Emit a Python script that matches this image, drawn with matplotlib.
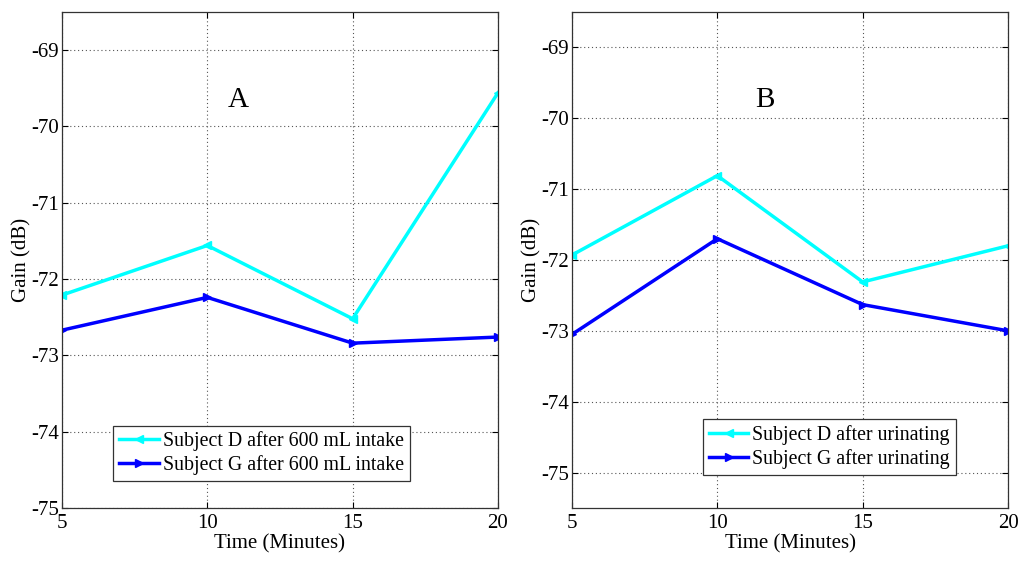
import matplotlib
matplotlib.use("Agg")
import matplotlib.pyplot as plt

plt.rcParams['font.family'] = ['Liberation Serif', 'DejaVu Serif']
plt.rcParams['axes.unicode_minus'] = False

# -----------------------------
# data
# -----------------------------
minutes = [5, 10, 15, 20]

# panel A: after 600 mL intake
d_intake = [-72.21, -71.56, -72.52, -69.56]
g_intake = [-72.67, -72.24, -72.84, -72.76]

# panel B: after urinating
d_urinate = [-71.93, -70.81, -72.31, -71.80]
g_urinate = [-73.05, -71.70, -72.63, -73.00]

yticks_a = [-75, -74, -73, -72, -71, -70, -69]
yticks_b = [-75, -74, -73, -72, -71, -70, -69]

cyan = "#00ffff"
blue = "#0000ff"

fig = plt.figure(figsize=(10.24, 5.62), dpi=100)
ax_a = fig.add_axes([0.0605, 0.0961, 0.4258, 0.8826])
ax_b = fig.add_axes([0.5586, 0.0961, 0.4258, 0.8826])


def style_axis(ax, ylim, yticks):
    ax.set_xlim(5, 20)
    ax.set_ylim(*ylim)
    ax.set_xticks(minutes)
    ax.set_yticks(yticks)
    ax.grid(True, linestyle=(0, (1, 2.5)), color="#555555", linewidth=0.8)
    ax.tick_params(direction="in", top=True, right=True, labelsize=15, length=4)
    ax.tick_params(axis="x", pad=4)
    ax.tick_params(axis="y", pad=2)
    for s in ax.spines.values():
        s.set_color("#333333")
        s.set_linewidth(0.9)
    ax.set_xlabel("Time (Minutes)", fontsize=15, labelpad=1)
    ax.set_ylabel("Gain (dB)", fontsize=15, labelpad=0)


ax_a.plot(minutes, d_intake, color=cyan, lw=2.5, marker="<", ms=6,
          label="Subject D after 600 mL intake")
ax_a.plot(minutes, g_intake, color=blue, lw=2.5, marker=">", ms=6,
          label="Subject G after 600 mL intake")
style_axis(ax_a, (-75, -68.5), yticks_a)
ax_a.text(11.05, -69.66, "A", fontsize=21, ha="center", va="center")
leg = ax_a.legend(loc="lower left", bbox_to_anchor=(0.117, 0.054), fontsize=14.3,
                  fancybox=False, framealpha=1, edgecolor="#333333",
                  handlelength=2.0, handletextpad=0.2, borderpad=0.3,
                  labelspacing=0.2, borderaxespad=0)
leg.get_frame().set_linewidth(0.9)

ax_b.plot(minutes, d_urinate, color=cyan, lw=2.5, marker="<", ms=6,
          label="Subject D after urinating")
ax_b.plot(minutes, g_urinate, color=blue, lw=2.5, marker=">", ms=6,
          label="Subject G after urinating")
style_axis(ax_b, (-75.5, -68.5), yticks_b)
ax_b.text(11.64, -69.74, "B", fontsize=21, ha="center", va="center")
leg = ax_b.legend(loc="lower left", bbox_to_anchor=(0.30, 0.067), fontsize=14.3,
                  fancybox=False, framealpha=1, edgecolor="#333333",
                  handlelength=2.0, handletextpad=0.2, borderpad=0.3,
                  labelspacing=0.2, borderaxespad=0)
leg.get_frame().set_linewidth(0.9)

fig.savefig("out.png", dpi=100)
